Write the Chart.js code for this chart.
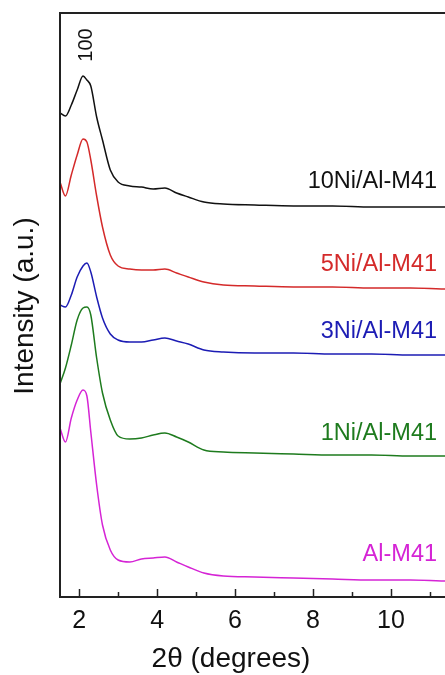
<!DOCTYPE html>
<html>
<head>
<meta charset="utf-8">
<script src="https://cdn.jsdelivr.net/npm/chart.js@4/dist/chart.umd.min.js"></script>
<style>
  html, body { margin: 0; padding: 0; background: #fff; width: 445px; height: 675px; overflow: hidden; }
  #wrap { position: relative; width: 480px; height: 675px; }
</style>
</head>
<body>
<div id="wrap"><canvas id="xrd"></canvas></div>
<script>
// 2theta grid (degrees) and intensities (a.u., stacked offsets as in the figure)
const twoTheta = [1.51, 1.65, 1.8, 1.95, 2.1, 2.2, 2.3, 2.45, 2.6, 2.8, 3.0, 3.3, 3.6, 3.9, 4.2, 4.5, 4.8, 5.2, 5.7, 6.5, 7.5, 8.5, 9.5, 10.5, 11.5, 12.0];
const ni10 = [484, 481, 492, 507, 521, 517, 511, 480, 457, 427, 415, 411, 410, 408, 409, 404, 400, 395, 393, 392, 391, 391, 390, 390, 390, 390];
const ni5 = [415, 401, 422, 442, 458, 455, 437, 401, 370, 342, 331, 328, 327, 327, 328, 324, 320, 315, 312, 311, 310, 310, 309, 309, 308, 308];
const ni3 = [292, 290, 302, 320, 331, 334, 325, 300, 279, 263, 257, 255, 255, 257, 259, 256, 253, 247, 245, 244, 244, 243, 243, 242, 242, 242];
const ni1 = [213, 229, 252, 277, 289, 290, 282, 239, 204, 177, 161, 158, 159, 162, 164, 160, 155, 147, 145, 144, 143, 142, 142, 141, 141, 141];
const alM41 = [169, 155, 179, 197, 207, 201, 165, 112, 72, 47, 37, 35, 38, 39, 40, 35, 30, 24, 21, 20, 19, 18, 17, 17, 16, 16];

const seriesNames = ["10Ni/Al-M41", "5Ni/Al-M41", "3Ni/Al-M41", "1Ni/Al-M41", "Al-M41"];
const seriesColors = ["#111111", "#d42a2a", "#1c1cb4", "#1e7b1e", "#d524d5"];
const labelY = [415, 332, 265, 163, 42];
const xTickValues = [2, 3, 4, 5, 6, 7, 8, 9, 10, 11];

const FONT = "'Liberation Sans', Arial, sans-serif";
const el = (id) => document.getElementById(id);

const toPoints = (ys) => ys.map((y, i) => ({ x: twoTheta[i], y }));

const datasets = [ni10, ni5, ni3, ni1, alM41].map((ys, i) => ({
  label: seriesNames[i],
  data: toPoints(ys),
  borderColor: seriesColors[i],
  borderWidth: 1.5,
  pointRadius: 0,
  cubicInterpolationMode: "monotone",
  fill: false,
}));

// frame, inward ticks and text annotations
const decor = {
  id: "decor",
  afterDraw(chart) {
    const { ctx, chartArea: a, scales } = chart;
    const xs = scales.x, ys = scales.y;
    ctx.save();
    ctx.strokeStyle = "#222";
    ctx.lineWidth = 2;
    ctx.strokeRect(a.left, a.top, a.right - a.left, a.bottom - a.top);

    xTickValues.forEach((v) => {
      const px = Math.round(xs.getPixelForValue(v)) + 0.5;
      const len = v % 2 === 0 ? 8 : 5;
      ctx.beginPath();
      ctx.moveTo(px, a.bottom);
      ctx.lineTo(px, a.bottom - len);
      ctx.lineWidth = 1.5;
      ctx.stroke();
    });

    ctx.textBaseline = "middle";
    ctx.font = `23.5px ${FONT}`;
    ctx.textAlign = "right";
    seriesNames.forEach((name, i) => {
      ctx.fillStyle = seriesColors[i];
      ctx.fillText(name, xs.getPixelForValue(11.18), ys.getPixelForValue(labelY[i]));
    });

    // reflection index over the first peak
    ctx.fillStyle = "#111";
    ctx.font = `20px ${FONT}`;
    ctx.textAlign = "center";
    ctx.translate(xs.getPixelForValue(2.2), ys.getPixelForValue(552));
    ctx.rotate(-Math.PI / 2);
    ctx.fillText("100", 0, 0);
    ctx.restore();

    // axis titles
    ctx.save();
    ctx.fillStyle = "#111";
    ctx.font = `28px ${FONT}`;
    ctx.textAlign = "center";
    ctx.textBaseline = "middle";
    ctx.fillText("2\u03B8 (degrees)", 231, 659);
    ctx.translate(25, 306);
    ctx.rotate(-Math.PI / 2);
    ctx.fillText("Intensity (a.u.)", 0, 0);
    ctx.restore();
  },
};

new Chart(el("xrd"), {
  type: "line",
  data: { datasets },
  plugins: [decor],
  options: {
    responsive: true,
    maintainAspectRatio: false,
    animation: false,
    layout: { padding: { left: 60, top: 13, right: 11, bottom: 0 } },
    plugins: { legend: { display: false }, tooltip: { enabled: false } },
    scales: {
      x: {
        type: "linear",
        min: 1.51,
        max: 12,
        afterBuildTicks: (scale) => { scale.ticks = xTickValues.map((v) => ({ value: v })); },
        afterFit: (scale) => { scale.height = 78; },
        grid: { display: false, drawTicks: false },
        border: { display: false },
        ticks: {
          autoSkip: false,
          maxRotation: 0,
          padding: 9,
          color: "#111",
          font: { family: FONT, size: 25 },
          callback: (v) => (v % 2 === 0 ? String(v) : ""),
        },
      },
      y: { type: "linear", display: false, min: 0, max: 584 },
    },
  },
});
</script>
</body>
</html>
